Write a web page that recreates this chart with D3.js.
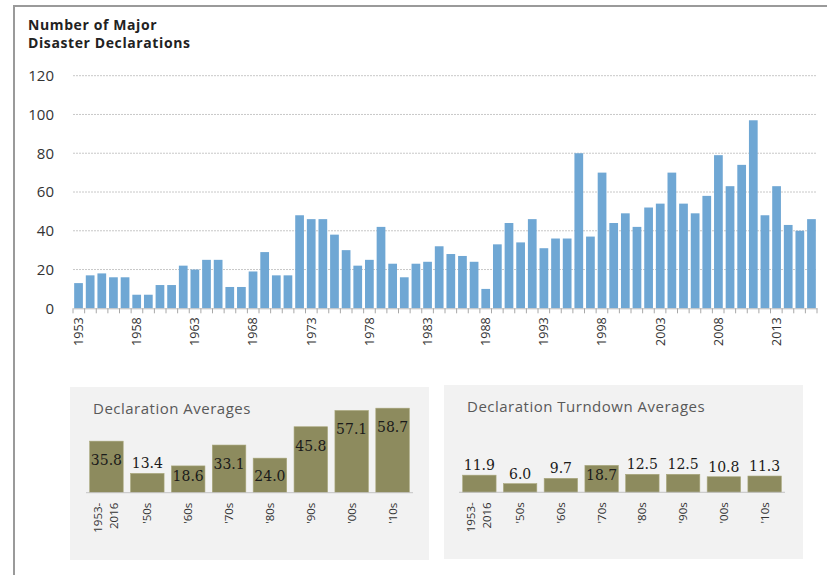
<!DOCTYPE html>
<html><head><meta charset="utf-8">
<script src="https://cdn.jsdelivr.net/npm/d3@7"></script>
<style>body{margin:0;background:#fff}svg{display:block}</style>
</head><body>
<script>
// ---- data ----
const years = d3.range(1953, 2017);
const declarations = [13,17,18,16,16,7,7,12,12,22,20,25,25,11,11,19,29,17,17,48,
  46,46,38,30,22,25,42,23,16,23,24,32,28,27,24,10,33,44,34,46,
  31,36,36,80,37,70,44,49,42,52,54,70,54,49,58,79,63,74,97,48,
  63,43,40,46];
const yTicks = [0,20,40,60,80,100,120];
const avgCategories = ["1953-2016","'50s","'60s","'70s","'80s","'90s","'00s","'10s"];
const avgValues = [35.8,13.4,18.6,33.1,24.0,45.8,57.1,58.7];
const turndownValues = [11.9,6.0,9.7,18.7,12.5,12.5,10.8,11.3];
const titleLines = ["Number of Major","Disaster Declarations"];

const W = 827, H = 575;
const svg = d3.select("body").append("svg").attr("width", W).attr("height", H);
const sans = "'Open Sans', Lato, sans-serif";

// frame
svg.append("rect").attr("x",14).attr("y",6).attr("width",W).attr("height",H)
  .attr("fill","none").attr("stroke","#9a9a9a").attr("stroke-width",2);

// title
svg.append("text").attr("x",28).attr("y",30).attr("font-family",sans)
  .attr("font-weight","bold").attr("font-size",14).attr("fill","#222")
  .attr("letter-spacing",0.6)
  .selectAll("tspan").data(titleLines).join("tspan")
  .attr("x",28).attr("dy",(d,i)=>i?18:0).text(d=>d);

// main chart scales
const x = d3.scaleBand().domain(years).range([73, 817]).paddingInner(0.25).paddingOuter(0.1);
const y = d3.scaleLinear().domain([0,120]).range([308.3, 75.7]);

// gridlines
svg.append("g").selectAll("line").data(yTicks.filter(d=>d>0)).join("line")
  .attr("x1",73).attr("x2",817).attr("y1",d=>y(d)).attr("y2",d=>y(d))
  .attr("stroke","#c8c8c8").attr("stroke-dasharray","2,1");

// y labels
const yAxis = svg.append("g").attr("transform","translate(59,0)")
  .call(d3.axisLeft(y).tickValues(yTicks).tickSize(0).tickPadding(5));
yAxis.select(".domain").remove();
yAxis.selectAll("text").attr("font-family",sans).attr("font-size",15).attr("fill","#333");

// bars
svg.append("g").selectAll("rect").data(years).join("rect")
  .attr("x",d=>x(d)).attr("width",x.bandwidth())
  .attr("y",(d,i)=>y(declarations[i])).attr("height",(d,i)=>y(0)-y(declarations[i]))
  .attr("fill","#6fa7d4");

// x axis
const xAxis = svg.append("g").attr("transform",`translate(0,${y(0)})`)
  .call(d3.axisBottom(x).tickSize(0).tickFormat(d=>(d-1953)%5===0?d:""));
xAxis.select(".domain").attr("stroke","#bdbdbd");
xAxis.selectAll("text").attr("font-family",sans).attr("font-size",12.5).attr("fill","#333")
  .attr("transform","rotate(-90)").attr("text-anchor","end")
  .attr("x",-9).attr("y",0).attr("dy","0.35em");
// tick marks at category boundaries
const bounds = d3.range(years.length+1).map(i => x.range()[0] + (x.range()[1]-x.range()[0]) * i / years.length);
svg.append("g").selectAll("line").data(bounds).join("line")
  .attr("x1",d=>d).attr("x2",d=>d)
  .attr("y1",y(0)).attr("y2",y(0)+5).attr("stroke","#a8a8a8");

// ---- inset panels ----
function inset(opts){
  const g = svg.append("g");
  g.append("rect").attr("x",opts.px).attr("y",opts.py).attr("width",opts.pw).attr("height",opts.ph)
    .attr("fill","#f2f2f2");
  g.append("text").attr("x",opts.tx).attr("y",opts.ty).attr("font-family",sans)
    .attr("font-size",15).attr("fill","#595959").attr("letter-spacing",0.5).text(opts.title);
  const xs = d3.scaleBand().domain(avgCategories).range(opts.range).paddingInner(0.18).paddingOuter(0.09);
  const ys = d3.scaleLinear().domain([0,60]).range([opts.base, opts.base-86.4]);
  g.append("g").selectAll("rect").data(avgCategories).join("rect")
    .attr("x",d=>xs(d)).attr("width",xs.bandwidth())
    .attr("y",(d,i)=>ys(opts.values[i])).attr("height",(d,i)=>ys(0)-ys(opts.values[i]))
    .attr("fill","#8d8b5e").attr("stroke","#a9a77c").attr("stroke-width",0.6);
  g.append("line").attr("x1",opts.range[0]).attr("x2",opts.range[1])
    .attr("y1",opts.base).attr("y2",opts.base).attr("stroke","#c4c4c4");
  // value labels
  g.append("g").selectAll("text").data(avgCategories).join("text")
    .attr("x",d=>xs(d)+xs.bandwidth()/2)
    .attr("y",(d,i)=>{const v=opts.values[i]; const top=ys(v), h=ys(0)-top;
       return h>=24 ? Math.min(top+19, opts.base-17) : top-10;})
    .attr("dy","0.35em").attr("text-anchor","middle")
    .attr("font-family","'DejaVu Serif', serif").attr("font-size",14).attr("fill","#1a1a1a")
    .text((d,i)=>opts.values[i].toFixed(1));
  // category labels
  g.append("g").selectAll("text").data(avgCategories).join("text")
    .attr("transform",d=>`translate(${xs(d)+xs.bandwidth()/2},${opts.base+10}) rotate(-90)`)
    .attr("text-anchor","end").attr("font-family",sans).attr("font-size",11.5).attr("fill","#333")
    .each(function(d){
      const parts = d.includes("-") ? [d.split("-")[0]+"-", d.split("-")[1]] : [d];
      d3.select(this).selectAll("tspan").data(parts).join("tspan")
        .attr("x",0).attr("y",(p,i)=> parts.length>1 ? (i? 12:-4) : 4).text(p=>p);
    });
}
inset({px:70,py:387,pw:359,ph:173,tx:93,ty:414,title:"Declaration Averages",
  range:[86,413],base:492.7,values:avgValues});
inset({px:444,py:385,pw:359,ph:174,tx:467,ty:412,title:"Declaration Turndown Averages",
  range:[459,785],base:492.3,values:turndownValues});
</script>
</body></html>
